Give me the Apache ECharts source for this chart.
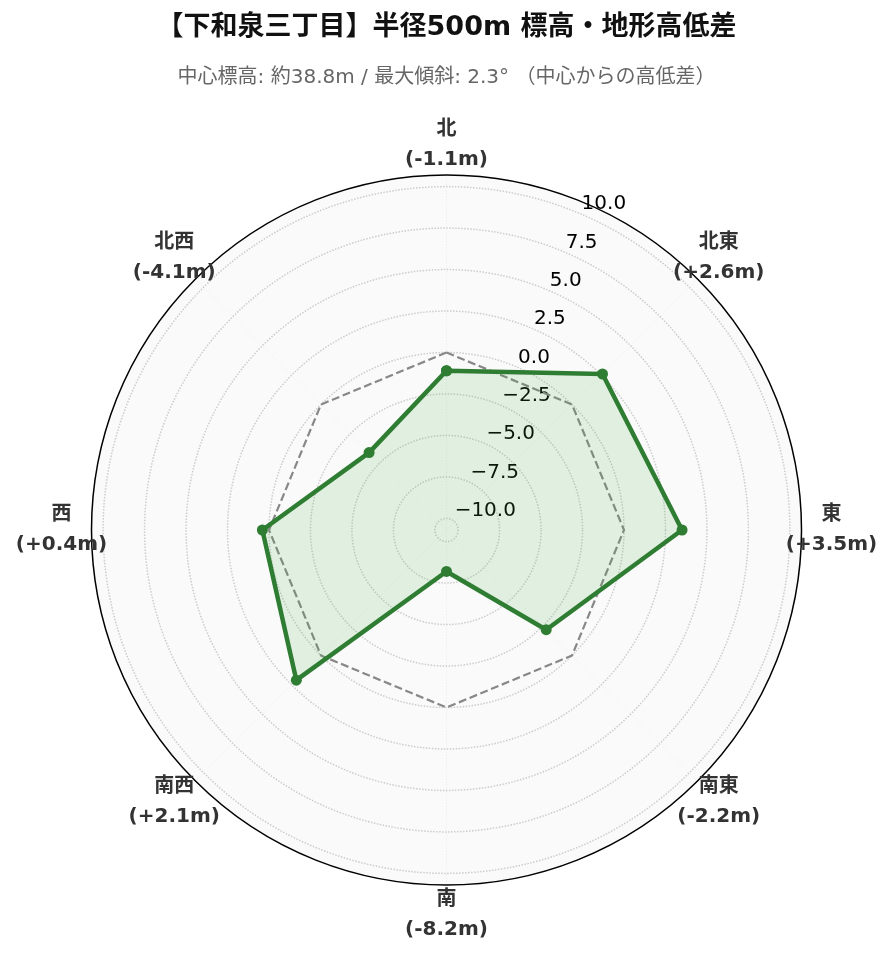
<!DOCTYPE html>
<html>
<head>
<meta charset="utf-8">
<script src="https://cdn.jsdelivr.net/npm/echarts@6/dist/echarts.min.js"></script>
<style>
  html, body { margin: 0; padding: 0; background: #fff; }
  #chart { width: 893px; height: 962px; }
</style>
</head>
<body>
<div id="chart"></div>
<script>
// 方位ごとの高低差（中心標高との差, m）
const directions = ['北', '北東', '東', '南東', '南', '南西', '西', '北西']
const directionAngles = [0, 45, 90, 135, 180, 225, 270, 315]
const elevationDiffs = [-1.1, 2.6, 3.5, -2.2, -8.2, 2.1, 0.4, -4.1]
const zeroLine = [0, 0, 0, 0, 0, 0, 0, 0]
const radiusTicks = [-10, -7.5, -5, -2.5, 0, 2.5, 5, 7.5, 10]

const titleText = '【下和泉三丁目】半径500m 標高・地形高低差'
const subText = '中心標高: 約38.8m / 最大傾斜: 2.3° （中心からの高低差）'

const FONT = '"DejaVu Sans", "Noto Sans CJK JP", sans-serif'

const rMin = -10.7
const rMax = 10.7
const center = [446.5, 530]
const outerR = 355
// 目盛りの円は -10 〜 10 の範囲だけ（別の polar で描く）
const pxPerUnit = outerR / (rMax - rMin)
const tickInner = (radiusTicks[0] - rMin) * pxPerUnit
const tickOuter = (radiusTicks[radiusTicks.length - 1] - rMin) * pxPerUnit
// 方位ラベルは外周の少し外側
const labelR = rMin + (outerR + 30) / pxPerUnit

const fmtDiff = (v) => (v >= 0 ? '+' : '-') + Math.abs(v).toFixed(1) + 'm'

// 閉じた多角形にするため先頭を 360° で繰り返す
const toPolar = (vals) => {
  const pts = vals.map((v, i) => [v, directionAngles[i]])
  pts.push([vals[0], 360])
  return pts
}

const gridLine = { color: '#cccccc', type: 'dotted', width: 1.5 }

const chart = echarts.init(document.getElementById('chart'))

const option = {
  animation: false,
  backgroundColor: '#fff',
  title: [
    {
      text: titleText,
      left: 'center',
      top: 9,
      textStyle: {
        fontFamily: FONT,
        fontSize: 27,
        fontWeight: 'bold',
        color: '#111'
      }
    },
    {
      text: subText,
      left: 'center',
      top: 63,
      textStyle: {
        fontFamily: FONT,
        fontSize: 20,
        fontWeight: 'normal',
        color: '#666'
      }
    }
  ],
  polar: [
    { center: center, radius: [0, outerR] },
    { center: center, radius: [tickInner, tickOuter] }
  ],
  angleAxis: [
    {
      polarIndex: 0,
      type: 'value',
      min: 0,
      max: 360,
      interval: 45,
      startAngle: 90,
      clockwise: true,
      axisLine: { show: true, lineStyle: { color: '#000', width: 1.5 } },
      axisTick: { show: false },
      axisLabel: { show: false },
      splitLine: { show: true, lineStyle: gridLine },
      splitArea: { show: true, areaStyle: { color: ['#fafafa', '#fafafa'] } }
    },
    {
      polarIndex: 1,
      type: 'value',
      min: 0,
      max: 360,
      startAngle: 67.5,
      clockwise: true,
      show: false
    }
  ],
  radiusAxis: [
    {
      polarIndex: 0,
      type: 'value',
      min: rMin,
      max: rMax,
      axisLine: { show: false },
      axisTick: { show: false },
      axisLabel: { show: false },
      splitLine: { show: false }
    },
    {
      polarIndex: 1,
      type: 'value',
      min: radiusTicks[0],
      max: radiusTicks[radiusTicks.length - 1],
      interval: 2.5,
      z: 2,
      axisLine: { show: false },
      axisTick: { show: false },
      axisLabel: {
        margin: -4,
        align: 'left',
        verticalAlign: 'bottom',
        fontFamily: 'DejaVu Sans',
        fontSize: 20,
        color: '#000',
        formatter: (v) => (v < 0 ? '\u2212' + Math.abs(v).toFixed(1) : v.toFixed(1))
      },
      splitLine: { show: true, lineStyle: gridLine }
    }
  ],
  series: [
    {
      name: '基準(0m)',
      type: 'line',
      coordinateSystem: 'polar',
      polarIndex: 0,
      data: toPolar(zeroLine),
      symbol: 'none',
      lineStyle: { color: '#888', width: 2.2, type: [8, 3.6] },
      z: 3
    },
    {
      name: '高低差',
      type: 'line',
      coordinateSystem: 'polar',
      polarIndex: 0,
      data: toPolar(elevationDiffs),
      symbol: 'circle',
      symbolSize: 11,
      itemStyle: { color: '#2e7d32' },
      lineStyle: { color: '#2e7d32', width: 4.5 },
      areaStyle: { color: 'rgba(76, 175, 80, 0.2)', origin: 'start' },
      z: 4
    },
    {
      // 方位名と高低差のラベル
      name: '方位',
      type: 'scatter',
      coordinateSystem: 'polar',
      polarIndex: 0,
      clip: false,
      silent: true,
      symbolSize: 0,
      itemStyle: { color: '#333', opacity: 1 },
      data: directions.map((d, i) => [labelR, directionAngles[i]]),
      label: {
        show: true,
        position: 'inside',
        fontFamily: FONT,
        fontSize: 20,
        fontWeight: 'bold',
        color: '#333',
        textBorderWidth: 0,
        lineHeight: 30,
        align: 'center',
        formatter: (p) => directions[p.dataIndex] + '\n(' + fmtDiff(elevationDiffs[p.dataIndex]) + ')'
      },
      z: 6
    }
  ]
}

chart.setOption(option)
</script>
</body>
</html>
